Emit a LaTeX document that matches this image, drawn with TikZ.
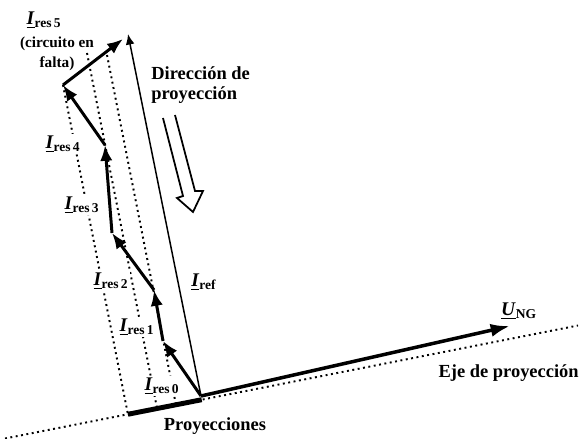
\documentclass[tikz,border=0pt]{standalone}
\usepackage{fontspec}
\setmainfont{Liberation Serif}
\usetikzlibrary{arrows.meta, calc}

\tikzset{
  vector/.style={line width=1.7pt, -{Latex[length=9pt,width=7pt]}},
  proyeccion/.style={line width=1.1pt, dotted},
  etiqueta/.style={font=\fontsize{11}{13}\selectfont\bfseries, fill=white, inner sep=1pt},
  texto/.style={font=\fontsize{10.5}{11.3}\selectfont\bfseries, align=left, inner sep=0pt},
}
\newcommand{\Ires}[1]{\underline{\textit{I}}\textsubscript{res\,#1}}

\begin{document}
\begin{tikzpicture}[x=0.02cm, y=-0.02cm]
  \useasboundingbox (0,0) rectangle (579,439);

  % Poligonal de corrientes (en pixeles de la figura original)
  \coordinate (O)  at (201,396);
  \coordinate (p1) at (163,341);
  \coordinate (p2) at (154,290);
  \coordinate (p3) at (112,233);
  \coordinate (p4) at (105,145);
  \coordinate (p5) at (63,85);
  \coordinate (p6) at (123,39);
  \coordinate (ref) at (128,34);
  \coordinate (ung) at (510,326);

  % Eje de proyeccion y extremos superiores de las proyectantes
  \coordinate (ax1) at (5,438.5);
  \coordinate (ax2) at (578,325.5);
  \coordinate (l4) at (87,53);
  \coordinate (l2) at (107,55);

  % Eje punteado
  \draw[proyeccion] (ax1) -- (ax2);

  % Lineas de proyeccion
  \foreach \p in {p5, l4, l2}
    \draw[proyeccion] (\p) -- ($(ax1)!(\p)!(ax2)$);

  % Etiquetas (tapan las lineas punteadas)
  \node[etiqueta] (r0) at (162,386) {\Ires{0}};
  \node[etiqueta] (r1) at (137,327) {\Ires{1}};
  \node[etiqueta] (r2) at (111,281) {\Ires{2}};
  \node[etiqueta] (r3) at (82,205) {\Ires{3}};
  \node[etiqueta] (r4) at (63,144) {\Ires{4}};
  \node[etiqueta] (r5) at (44,20) {\Ires{5}};
  \node[font=\fontsize{8.7}{11.3}\selectfont\bfseries, align=center, inner sep=0pt] (falta) at (57,54) {(circuito en\\falta)};

  % Segmento de proyecciones
  \draw[line width=2.8pt] ($(ax1)!(p5)!(ax2)$) -- ($(ax1)!(O)!(ax2)$);

  % Corriente de referencia y tension
  \draw[line width=0.85pt, -{Latex[length=6pt,width=5pt]}] (O) -- (ref);
  \draw[line width=2pt, -{Latex[length=11pt,width=7.5pt]}] (O) -- (ung);

  % Vectores de corriente residual
  \foreach \a/\b in {O/p1, p1/p2, p2/p3, p3/p4, p4/p5, p5/p6}
    \draw[vector] (\a) -- (\b);

  \node[etiqueta, fill=none] (iref) at (204,282) {\underline{\textit{I}}\textsubscript{ref}};
  \node[etiqueta, fill=none] (uname) at (519,311) {\underline{\textit{U}}\textsubscript{NG}};

  % Flecha hueca: direccion de proyeccion
  \draw[line width=1pt, line join=miter]
    (163,118) -- (183,196) -- (177,198) -- (193,212) -- (203,191) -- (195,191) -- (175,115);

  % Textos
  \node[texto, anchor=west] (dir) at (151,85) {Dirección de\\proyección};
  \node[texto] (proy) at (215,426) {Proyecciones};
  \node[texto, anchor=east] (eje) at (579,373) {Eje de proyección};
\end{tikzpicture}
\end{document}
